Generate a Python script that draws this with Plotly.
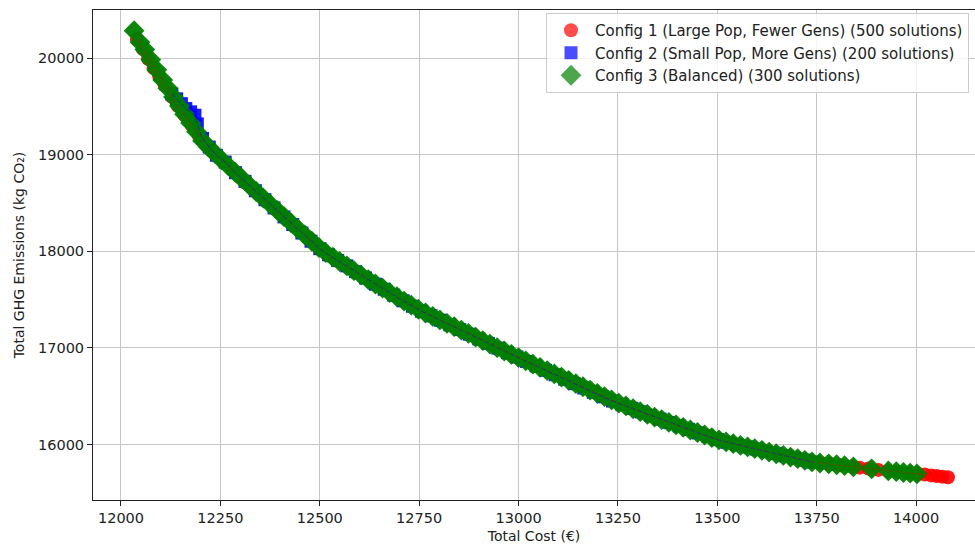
import plotly.graph_objects as go

# ---------------- data ----------------
c1_cost = [12040, 12055, 12068, 12082, 12096, 12110, 12128, 12143, 12160, 12178,
           12195, 12215, 12235, 12255, 12278, 12300, 12322, 12345, 12368, 12390,
           12412, 12435, 12458, 12480, 12503, 12525, 12548, 12570, 12595, 12618,
           12640, 12663, 12688, 12710, 12735, 12758, 12782, 12805, 12830, 12855,
           12878, 12902, 12925, 12950, 12973, 12998, 13022, 13045, 13070, 13093,
           13117, 13140, 13165, 13188, 13212, 13236, 13260, 13283, 13307, 13330,
           13354, 13378, 13401, 13425, 13449, 13472, 13496, 13520, 13545, 13568,
           13592, 13615, 13640, 13663, 13687, 13710, 13735, 13760, 13785, 13810,
           13838, 13858, 13880, 13905, 13930, 13955, 13980, 14005, 14022, 14038,
           14052, 14066, 14080]
c1_ghg = [20200, 20095, 19995, 19900, 19815, 19720, 19600, 19505, 19410, 19305,
          19204, 19100, 19015, 18940, 18855, 18765, 18685, 18595, 18515, 18432,
          18350, 18270, 18185, 18100, 18020, 17955, 17900, 17845, 17778, 17718,
          17665, 17605, 17545, 17490, 17430, 17378, 17330, 17285, 17235, 17185,
          17140, 17090, 17045, 16995, 16950, 16903, 16858, 16815, 16768, 16726,
          16680, 16638, 16592, 16548, 16502, 16456, 16415, 16377, 16340, 16303,
          16266, 16231, 16196, 16160, 16125, 16092, 16057, 16028, 16003, 15982,
          15958, 15935, 15911, 15889, 15867, 15846, 15823, 15806, 15795, 15784,
          15771, 15760, 15750, 15737, 15725, 15715, 15705, 15695, 15688, 15680,
          15673, 15667, 15660]

c2_cost = [12128, 12140, 12152, 12163, 12175, 12186, 12192, 12205, 12222,
           12240, 12262, 12288, 12312, 12338, 12362, 12385, 12410, 12432, 12455,
           12478, 12500, 12522, 12545, 12568, 12590, 12615, 12640, 12662, 12686,
           12710, 12733, 12756, 12780, 12803, 12827, 12852, 12876, 12900, 12924,
           12948, 12972, 12996, 13020, 13044, 13068, 13092, 13116, 13140, 13164,
           13188, 13212, 13236, 13260, 13285, 13308, 13332, 13356, 13380, 13404,
           13428, 13452, 13476, 13500, 13525, 13550, 13574, 13598, 13622, 13646,
           13670, 13694, 13718, 13742]
c2_ghg = [19630, 19580, 19530, 19480, 19445, 19410, 19320, 19170, 19080,
          18995, 18925, 18815, 18725, 18628, 18535, 18450, 18357, 18278, 18190,
          18105, 18028, 17965, 17905, 17850, 17790, 17725, 17660, 17608, 17547,
          17488, 17432, 17380, 17333, 17287, 17240, 17190, 17142, 17094, 17047,
          16998, 16952, 16906, 16860, 16815, 16768, 16722, 16677, 16630, 16585,
          16540, 16494, 16450, 16413, 16374, 16338, 16300, 16263, 16227, 16192,
          16156, 16120, 16085, 16050, 16022, 15997, 15975, 15952, 15928, 15906,
          15882, 15860, 15838, 15817]

c3_cost = [12033, 12048, 12060, 12075, 12090, 12105, 12118, 12132, 12147, 12160,
           12175, 12190, 12205, 12220, 12237, 12253, 12270, 12287, 12305, 12322,
           12340, 12358, 12375, 12393, 12410, 12428, 12445, 12462, 12480, 12498,
           12515, 12533, 12550, 12568, 12586, 12604, 12622, 12640, 12658, 12676,
           12694, 12712, 12730, 12748, 12766, 12784, 12802, 12820, 12838, 12856,
           12874, 12892, 12910, 12928, 12946, 12964, 12982, 13000, 13018, 13036,
           13054, 13072, 13090, 13108, 13126, 13144, 13162, 13180, 13198, 13216,
           13234, 13252, 13270, 13288, 13306, 13324, 13342, 13360, 13378, 13396,
           13414, 13432, 13450, 13468, 13486, 13504, 13522, 13540, 13558, 13576,
           13594, 13612, 13630, 13648, 13666, 13684, 13702, 13720, 13738, 13758,
           13780, 13800, 13820, 13842, 13888, 13930, 13950, 13968, 13985, 14002]
c3_ghg = [20285, 20165, 20090, 19985, 19880, 19775, 19690, 19600, 19505, 19420,
          19330, 19240, 19145, 19080, 19012, 18948, 18885, 18820, 18752, 18688,
          18620, 18552, 18490, 18425, 18360, 18295, 18232, 18170, 18105, 18040,
          17988, 17940, 17895, 17850, 17800, 17755, 17708, 17662, 17620, 17573,
          17530, 17485, 17443, 17400, 17362, 17327, 17290, 17255, 17220, 17185,
          17150, 17112, 17075, 17040, 17003, 16968, 16933, 16900, 16866, 16832,
          16798, 16765, 16731, 16698, 16664, 16630, 16598, 16563, 16530, 16496,
          16462, 16428, 16399, 16370, 16340, 16312, 16284, 16257, 16230, 16204,
          16177, 16150, 16124, 16098, 16072, 16048, 16026, 16008, 15990, 15975,
          15957, 15939, 15921, 15904, 15887, 15870, 15853, 15836, 15820, 15808,
          15800, 15790, 15780, 15768, 15748, 15726, 15718, 15710, 15703, 15696]

names = ["Config 1 (Large Pop, Fewer Gens) (500 solutions)",
         "Config 2 (Small Pop, More Gens) (200 solutions)",
         "Config 3 (Balanced) (300 solutions)"]
x_ticks = [12000, 12250, 12500, 12750, 13000, 13250, 13500, 13750, 14000]
y_ticks = [16000, 17000, 18000, 19000, 20000]

# ---------------- figure ----------------
# (values, name, colour, symbol, data size, data opacity, legend size)
series = [
    (c1_cost, c1_ghg, names[0], "red", "circle", 14, 0.9, 14),
    (c2_cost, c2_ghg, names[1], "blue", "square", 13, 0.9, 13),
    (c3_cost, c3_ghg, names[2], "green", "diamond", 16, 0.95, 16),
]

fig = go.Figure()
for xs, ys, nm, col, sym, sz, op, lsz in series:
    fig.add_trace(go.Scatter(
        x=xs, y=ys, mode="markers", name=nm, showlegend=False,
        marker=dict(color=col, symbol=sym, size=sz, opacity=op,
                    line=dict(width=0)),
    ))
for xs, ys, nm, col, sym, sz, op, lsz in series:
    fig.add_trace(go.Scatter(
        x=xs, y=ys, mode="lines", showlegend=False, opacity=0.55,
        line=dict(color=col, width=1, dash="5px,2px"),
        hoverinfo="skip",
    ))
for xs, ys, nm, col, sym, sz, op, lsz in series:
    fig.add_trace(go.Scatter(
        x=[None], y=[None], mode="markers", name=nm,
        marker=dict(color=col, symbol=sym, size=lsz, opacity=0.7,
                    line=dict(width=0)),
    ))

font_family = "DejaVu Sans"
fig.update_layout(
    width=975, height=544,
    margin=dict(l=93, r=0, t=10, b=44, autoexpand=False),
    paper_bgcolor="white", plot_bgcolor="white",
    font=dict(family=font_family, size=14, color="#222222"),
    showlegend=True,
    legend=dict(
        x=(546 - 93) / 882, y=(500 - 13) / 490, xanchor="left", yanchor="top",
        bgcolor="rgba(255,255,255,0.8)", bordercolor="#cccccc", borderwidth=1,
        font=dict(family=font_family, size=15, color="#222222"),
        itemwidth=38, itemsizing="trace",
    ),
    xaxis=dict(
        range=[11929.6, 14148], tickvals=x_ticks,
        ticktext=[str(v) for v in x_ticks],
        showgrid=True, gridcolor="#c6c6c6", gridwidth=1,
        showline=True, linecolor="#222222", linewidth=1, mirror=True,
        ticks="outside", ticklen=5, tickcolor="#222222",
        tickfont=dict(size=14.5), zeroline=False,
        title=dict(text="Total Cost (€)", font=dict(size=14), standoff=6),
        automargin=False,
    ),
    yaxis=dict(
        range=[15425, 20500], tickvals=y_ticks,
        ticktext=[str(v) for v in y_ticks],
        showgrid=True, gridcolor="#c6c6c6", gridwidth=1,
        showline=True, linecolor="#222222", linewidth=1,
        ticks="outside", ticklen=5, tickcolor="#222222",
        tickfont=dict(size=14.5), zeroline=False,
        title=dict(text="Total GHG Emissions (kg CO₂)", font=dict(size=14), standoff=10),
        automargin=False,
    ),
)

fig.write_html("out.html")
